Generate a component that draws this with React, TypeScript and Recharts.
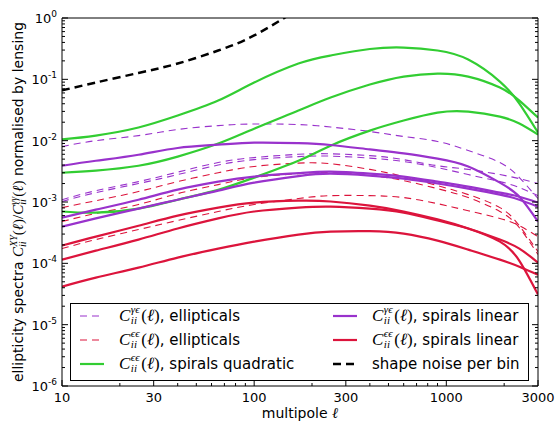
import { LineChart, Line, XAxis, YAxis, Legend } from 'recharts';

const ells = [10, 15, 25, 40, 65, 100, 170, 250, 400, 600, 900, 1300, 1900, 2400, 3000];

// shape noise per bin (leaves the plot above 1)
const shapeNoise = [0.066, 0.0887, 0.127, 0.181, 0.295, 0.519, 1.4];

// spirals quadratic, C^ee
const quadEE1 = [0.0105, 0.0121, 0.0164, 0.0257, 0.0451, 0.0887, 0.181, 0.245, 0.312, 0.33, 0.295, 0.21, 0.092, 0.0403, 0.0136];
const quadEE2 = [0.003, 0.00325, 0.0039, 0.0055, 0.00897, 0.0157, 0.031, 0.0505, 0.0822, 0.111, 0.124, 0.111, 0.0735, 0.0451, 0.0238];
const quadEE3 = [7.0e-4, 6.7e-4, 7.8e-4, 1.09e-3, 1.58e-3, 2.5e-3, 4.7e-3, 8.3e-3, 0.0146, 0.0213, 0.0287, 0.0298, 0.0247, 0.019, 0.0126];

// spirals linear, C^ge
const linGE1 = [3.9e-3, 4.7e-3, 5.9e-3, 7.6e-3, 8.6e-3, 9.3e-3, 9.1e-3, 8.5e-3, 7.2e-3, 6.2e-3, 5.1e-3, 3.8e-3, 2.07e-3, 1.22e-3, 4.8e-4];
const linGE2 = [5.57e-4, 7.5e-4, 1.09e-3, 1.59e-3, 2.15e-3, 2.6e-3, 2.96e-3, 3.13e-3, 2.9e-3, 2.6e-3, 2.15e-3, 1.78e-3, 1.42e-3, 1.22e-3, 9.8e-4];
const linGE3 = [3.97e-4, 5.4e-4, 7.8e-4, 1.09e-3, 1.53e-3, 2.07e-3, 2.65e-3, 2.9e-3, 2.7e-3, 2.4e-3, 2.0e-3, 1.65e-3, 1.32e-3, 1.09e-3, 8.4e-4];

// spirals linear, C^ee
const linEE1 = [1.95e-4, 2.73e-4, 4.1e-4, 6.0e-4, 8.1e-4, 9.8e-4, 1.05e-3, 1.02e-3, 8.7e-4, 7.0e-4, 5.2e-4, 3.7e-4, 2.26e-4, 1.1e-4, 3.1e-5];
const linEE2 = [1.15e-4, 1.61e-4, 2.44e-4, 3.7e-4, 5.4e-4, 7.0e-4, 8.1e-4, 8.4e-4, 7.8e-4, 6.7e-4, 5.0e-4, 3.7e-4, 2.44e-4, 1.74e-4, 1.03e-4];
const linEE3 = [4.17e-5, 5.85e-5, 8.5e-5, 1.24e-4, 1.74e-4, 2.26e-4, 2.94e-4, 3.29e-4, 3.35e-4, 3.05e-4, 2.34e-4, 1.67e-4, 1.15e-4, 8.8e-5, 6.5e-5];

// ellipticals, C^ge
const ellGE1 = [8.0e-3, 0.01, 0.0121, 0.0152, 0.0176, 0.0187, 0.0183, 0.0167, 0.0141, 0.0117, 9.7e-3, 6.9e-3, 4.4e-3, 2.5e-3, 1.14e-3];
const ellGE2 = [1.09e-3, 1.53e-3, 2.15e-3, 3.07e-3, 4.4e-3, 5.3e-3, 6.0e-3, 6.1e-3, 5.7e-3, 4.9e-3, 3.9e-3, 3.4e-3, 2.8e-3, 2.4e-3, 2.0e-3];
const ellGE3 = [1.02e-3, 1.42e-3, 2.0e-3, 2.8e-3, 4.0e-3, 4.9e-3, 5.5e-3, 5.6e-3, 5.2e-3, 4.56e-3, 3.64e-3, 2.8e-3, 2.15e-3, 1.72e-3, 1.27e-3];

// ellipticals, C^ee
const ellEE1 = [8.1e-4, 1.05e-3, 1.48e-3, 2.15e-3, 3.0e-3, 3.8e-3, 4.3e-3, 4.2e-3, 3.4e-3, 2.6e-3, 1.85e-3, 1.32e-3, 8.1e-4, 4.1e-4, 1.55e-4];
const ellEE2 = [4.8e-4, 6.5e-4, 9.1e-4, 1.37e-3, 1.92e-3, 2.5e-3, 2.9e-3, 3.0e-3, 2.7e-3, 2.23e-3, 1.65e-3, 1.18e-3, 7.0e-4, 3.8e-4, 1.39e-4];
const ellEE3 = [1.74e-4, 2.44e-4, 3.55e-4, 5.0e-4, 7.0e-4, 9.1e-4, 1.14e-3, 1.27e-3, 1.27e-3, 1.18e-3, 9.4e-4, 7.2e-4, 5.4e-4, 4.1e-4, 2.73e-4];

const xMajorTicks = [10, 30, 100, 300, 1000, 3000];
const xMinorTicks = [20, 40, 50, 60, 70, 80, 90, 200, 400, 500, 600, 700, 800, 900, 2000];
const yMajorTicks = [1e-6, 1e-5, 1e-4, 1e-3, 1e-2, 1e-1, 1];
const yMinorTicks = yMajorTicks.slice(0, -1).flatMap((d) => [2, 3, 4, 5, 6, 7, 8, 9].map((m) => m * d));

const PURPLE = '#9932cc';
const RED = '#dc143c';
const GREEN = '#32cd32';
const THIN_DASH = '7 5';
const NOISE_DASH = '8 5';

const series = [
  { key: 'ge1', values: ellGE1, color: PURPLE, width: 1.1, dash: THIN_DASH },
  { key: 'ge2', values: ellGE2, color: PURPLE, width: 1.1, dash: THIN_DASH },
  { key: 'ge3', values: ellGE3, color: PURPLE, width: 1.1, dash: THIN_DASH },
  { key: 'ee1', values: ellEE1, color: RED, width: 1.1, dash: THIN_DASH },
  { key: 'ee2', values: ellEE2, color: RED, width: 1.1, dash: THIN_DASH },
  { key: 'ee3', values: ellEE3, color: RED, width: 1.1, dash: THIN_DASH },
  { key: 'q1', values: quadEE1, color: GREEN, width: 2.2 },
  { key: 'q2', values: quadEE2, color: GREEN, width: 2.2 },
  { key: 'q3', values: quadEE3, color: GREEN, width: 2.2 },
  { key: 'lge1', values: linGE1, color: PURPLE, width: 2.2 },
  { key: 'lge2', values: linGE2, color: PURPLE, width: 2.2 },
  { key: 'lge3', values: linGE3, color: PURPLE, width: 2.2 },
  { key: 'lee1', values: linEE1, color: RED, width: 2.2 },
  { key: 'lee2', values: linEE2, color: RED, width: 2.2 },
  { key: 'lee3', values: linEE3, color: RED, width: 2.2 },
  { key: 'noise', values: shapeNoise, color: '#000000', width: 2.5, dash: NOISE_DASH },
];

const legendItems = [
  { sup: 'γϵ', text: ', ellipticals', color: PURPLE, width: 1.1, dash: THIN_DASH, col: 0, row: 0 },
  { sup: 'ϵϵ', text: ', ellipticals', color: RED, width: 1.1, dash: THIN_DASH, col: 0, row: 1 },
  { sup: 'ϵϵ', text: ', spirals quadratic', color: GREEN, width: 2.2, col: 0, row: 2 },
  { sup: 'γϵ', text: ', spirals linear', color: PURPLE, width: 2.2, col: 1, row: 0 },
  { sup: 'ϵϵ', text: ', spirals linear', color: RED, width: 2.2, col: 1, row: 1 },
  { sup: '', text: 'shape noise per bin', color: '#000000', width: 2.5, dash: NOISE_DASH, col: 1, row: 2 },
];

const rows = ells.map((ell, i) => {
  const row: Record<string, number | null> = { ell };
  series.forEach((s) => {
    row[s.key] = s.values[i] ?? null;
  });
  return row;
});

const SANS = 'DejaVu Sans';
const SERIF = 'Liberation Serif';

const BottomTick = ({ x, y, payload }: any) => {
  const major = xMajorTicks.includes(payload.value);
  return (
    <g>
      <line x1={x} x2={x} y1={y} y2={y - (major ? 6 : 3)} stroke="#000" />
      {major && (
        <text x={x} y={y + 16} textAnchor="middle" fontSize={13} fontFamily={SANS} fill="#000">
          {payload.value}
        </text>
      )}
    </g>
  );
};

const TopTick = ({ x, y, payload }: any) => {
  const major = xMajorTicks.includes(payload.value);
  return <line x1={x} x2={x} y1={y} y2={y + (major ? 6 : 3)} stroke="#000" />;
};

const LeftTick = ({ x, y, payload }: any) => {
  const major = yMajorTicks.includes(payload.value);
  const exp = Math.round(Math.log10(payload.value));
  return (
    <g>
      <line x1={x} x2={x + (major ? 6 : 3)} y1={y} y2={y} stroke="#000" />
      {major && (
        <text x={x - 5} y={y + 5} textAnchor="end" fontSize={13} fontFamily={SANS} fill="#000">
          10
          <tspan dy={-6} fontSize={9}>
            {exp}
          </tspan>
        </text>
      )}
    </g>
  );
};

const RightTick = ({ x, y, payload }: any) => {
  const major = yMajorTicks.includes(payload.value);
  return <line x1={x} x2={x - (major ? 6 : 3)} y1={y} y2={y} stroke="#000" />;
};

const XLabel = ({ viewBox }: any) => (
  <text x={viewBox.x + viewBox.width / 2} y={viewBox.y + 32} textAnchor="middle" fontSize={14} fontFamily={SANS} fill="#000">
    multipole{' '}
    <tspan fontFamily={SERIF} fontStyle="italic" fontSize={15}>
      ℓ
    </tspan>
  </text>
);

const YLabel = ({ viewBox }: any) => {
  const cx = 23;
  const cy = viewBox.y + viewBox.height / 2;
  return (
    <text x={cx} y={cy} transform={`rotate(-90, ${cx}, ${cy})`} textAnchor="middle" fontSize={14} fontFamily={SANS} fill="#000">
      ellipticity spectra{' '}
      <tspan fontFamily={SERIF} fontStyle="italic" fontSize={15}>C</tspan>
      <tspan fontFamily={SERIF} fontStyle="italic" fontSize={10} dy={3}>ii</tspan>
      <tspan fontFamily={SERIF} fontStyle="italic" fontSize={10} dx={-5.5} dy={-9}>XY</tspan>
      <tspan fontFamily={SERIF} fontSize={15} dy={6}>(</tspan>
      <tspan fontFamily={SERIF} fontStyle="italic" fontSize={15}>ℓ</tspan>
      <tspan fontFamily={SERIF} fontSize={15}>)/</tspan>
      <tspan fontFamily={SERIF} fontStyle="italic" fontSize={15}>C</tspan>
      <tspan fontFamily={SERIF} fontStyle="italic" fontSize={10} dy={3}>ii</tspan>
      <tspan fontFamily={SERIF} fontStyle="italic" fontSize={10} dx={-5.5} dy={-9}>γγ</tspan>
      <tspan fontFamily={SERIF} fontSize={15} dy={6}>(</tspan>
      <tspan fontFamily={SERIF} fontStyle="italic" fontSize={15}>ℓ</tspan>
      <tspan fontFamily={SERIF} fontSize={15}>)</tspan>
      <tspan> normalised by lensing</tspan>
    </text>
  );
};

const MathC = ({ sup }: { sup: string }) => (
  <>
    <span style={{ fontFamily: SERIF, fontStyle: 'italic', fontSize: 17 }}>C</span>
    <span style={{ display: 'inline-block', position: 'relative', width: 11, height: 0, fontFamily: SERIF, fontStyle: 'italic', fontSize: 11, lineHeight: 1 }}>
      <span style={{ position: 'absolute', left: 0.5, bottom: 6 }}>{sup}</span>
      <span style={{ position: 'absolute', left: 0.5, top: -6 }}>ii</span>
    </span>
    <span style={{ fontFamily: SERIF, fontSize: 17 }}>
      (<i>ℓ</i>)
    </span>
  </>
);

const LegendBox = () => (
  <div
    style={{
      position: 'relative',
      width: 459,
      height: 78,
      border: '1px solid #000',
      boxSizing: 'border-box',
      background: '#fff',
      fontFamily: SANS,
      fontSize: 15,
      color: '#000',
    }}
  >
    {legendItems.map((item, i) => (
      <div
        key={i}
        style={{
          position: 'absolute',
          left: item.col === 0 ? 9 : 262,
          top: 2 + item.row * 24,
          height: 20,
          display: 'flex',
          alignItems: 'center',
          whiteSpace: 'nowrap',
        }}
      >
        <svg width={24} height={10} style={{ display: 'block' }}>
          <line x1={0} y1={5} x2={24} y2={5} stroke={item.color} strokeWidth={item.width} strokeDasharray={item.dash} />
        </svg>
        <span style={{ marginLeft: 15, lineHeight: '20px' }}>
          {item.sup && <MathC sup={item.sup} />}
          {item.text}
        </span>
      </div>
    ))}
  </div>
);

export default function App() {
  return (
    <div style={{ position: 'absolute', left: 0, top: 0, width: 555, height: 426, background: '#fff' }}>
      <LineChart width={555} height={426} data={rows} margin={{ top: 17, right: 16, bottom: 10, left: 22 }}>
        <XAxis
          dataKey="ell"
          type="number"
          scale="log"
          domain={[10, 3000]}
          allowDataOverflow
          ticks={[...xMajorTicks, ...xMinorTicks]}
          interval={0}
          height={30}
          tickSize={0}
          tickMargin={0}
          tickLine={false}
          tick={BottomTick}
          axisLine={{ stroke: '#000' }}
          label={<XLabel />}
        />
        <XAxis
          xAxisId="top"
          orientation="top"
          type="number"
          scale="log"
          domain={[10, 3000]}
          allowDataOverflow
          ticks={[...xMajorTicks, ...xMinorTicks]}
          interval={0}
          height={1}
          tickSize={0}
          tickMargin={0}
          tickLine={false}
          tick={TopTick}
          axisLine={{ stroke: '#000' }}
        />
        <YAxis
          type="number"
          scale="log"
          domain={[1e-6, 1]}
          allowDataOverflow
          ticks={[...yMajorTicks, ...yMinorTicks]}
          interval={0}
          width={40}
          tickSize={0}
          tickMargin={0}
          tickLine={false}
          tick={LeftTick}
          axisLine={{ stroke: '#000' }}
          label={<YLabel />}
        />
        <YAxis
          yAxisId="right"
          orientation="right"
          type="number"
          scale="log"
          domain={[1e-6, 1]}
          allowDataOverflow
          ticks={[...yMajorTicks, ...yMinorTicks]}
          interval={0}
          width={1}
          tickSize={0}
          tickMargin={0}
          tickLine={false}
          tick={RightTick}
          axisLine={{ stroke: '#000' }}
        />
        {series.map((s) => (
          <Line
            key={s.key}
            dataKey={s.key}
            type="natural"
            stroke={s.color}
            strokeWidth={s.width}
            strokeDasharray={s.dash}
            dot={false}
            activeDot={false}
            isAnimationActive={false}
            connectNulls={false}
          />
        ))}
        <Legend
          layout="horizontal"
          verticalAlign="middle"
          align="center"
          wrapperStyle={{ left: 70, top: 303, width: 459, height: 78 }}
          content={() => <LegendBox />}
        />
      </LineChart>
    </div>
  );
}
